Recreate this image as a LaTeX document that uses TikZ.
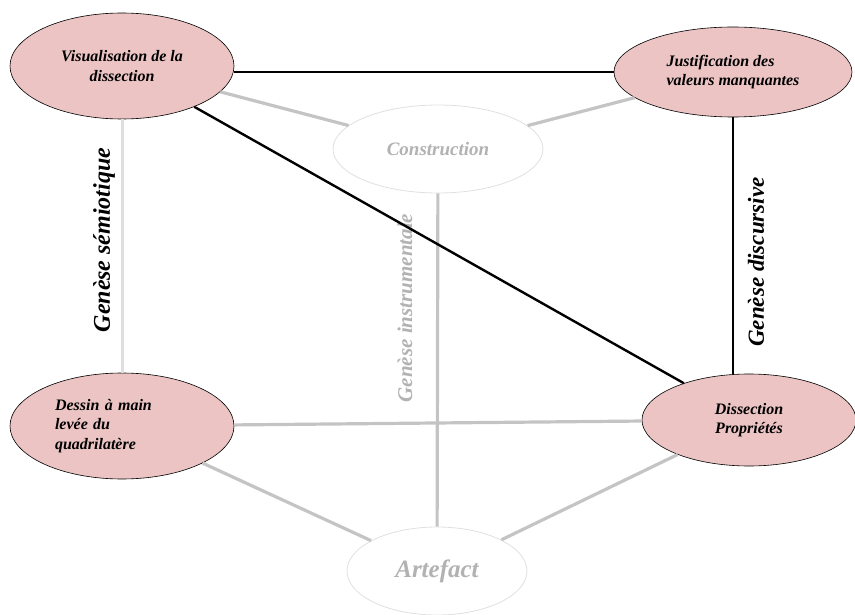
\documentclass[tikz,border=0pt]{standalone}
\usepackage{fontspec}
\setmainfont{Liberation Serif}
\usepackage{tikz}
\usetikzlibrary{shapes.geometric}

\definecolor{pinkfill}{RGB}{236,196,196}
\definecolor{greyline}{RGB}{196,196,196}
\definecolor{paleline}{RGB}{222,222,222}
\definecolor{greytext}{RGB}{178,178,178}

\tikzset{
  pole/.style={ellipse, draw=black, line width=0.6pt, fill=pinkfill, inner sep=0pt,
    font=\fontsize{16}{19.5}\selectfont\bfseries\itshape},
  ghost/.style={ellipse, draw=black!12, line width=0.8pt, fill=white, inner sep=0pt,
    text=greytext, font=\bfseries\itshape},
  strong/.style={line width=2.4pt, black},
  weak/.style={line width=3.2pt, greyline},
  genese/.style={rotate=90, font=\fontsize{23}{26}\selectfont\bfseries\itshape}
}

\begin{document}
\begin{tikzpicture}[x=1pt, y=-1pt]
        \useasboundingbox (0,0) rectangle (855,615);
\node[pole, minimum width=224pt, minimum height=106pt, align=center] (vis) at (122,66) {Visualisation de la\\dissection}; % Visualisation
\node[pole, minimum width=238pt, minimum height=90pt, align=left] (just) at (733,72) {Justification des\\valeurs manquantes}; % Justification
\node[pole, minimum width=224pt, minimum height=106pt, text width=134pt, align=left] (dessin) at (122,426) {Dessin à main\\levée du\\quadrilatère}; % Dessin
\node[pole, minimum width=214pt, minimum height=92pt, align=center] (diss) at (749,420) {Dissection\\Propriétés}; % Dissection
\node[ghost, minimum width=210pt, minimum height=88pt, font=\fontsize{19}{22}\selectfont\bfseries\itshape] (constr) at (438,149) {Construction}; % Construction
\node[ghost, minimum width=180pt, minimum height=88pt, font=\fontsize{25}{28}\selectfont\bfseries\itshape] (artef) at (437,571) {Artefact}; % Artefact
\draw[line width=3pt, paleline] (vis.south) -- (dessin.north) ; % semiotique
\draw[weak] (vis) -- (constr) ; % vis-constr
\draw[weak] (just) -- (constr) ; % just-constr
\draw[weak] (constr) -- (artef) ; % instrumentale
\draw[weak] (dessin) -- (diss) ; % dessin-diss
\draw[weak] (dessin) -- (artef) ; % dessin-artef
\draw[weak] (diss) -- (artef) ; % diss-artef
\node[genese, text=greytext, font=\fontsize{21}{24}\selectfont\bfseries\itshape] (gins) at (405,308) {Genèse instrumentale}; % label
\draw[strong] (just.west) -- (just.west -| vis.east) ; % vis-just
\draw[strong] (vis) -- (diss) ; % vis-diss
\draw[strong] (just.south) -- (just.south |- diss.north) ; % discursive
\node[genese, font=\fontsize{24}{27}\selectfont\bfseries\itshape] (gsem) at (104,240) {Genèse sémiotique}; % label
\node[genese] (gdis) at (756,262) {Genèse discursive}; % label
        \end{tikzpicture}
\end{document}
